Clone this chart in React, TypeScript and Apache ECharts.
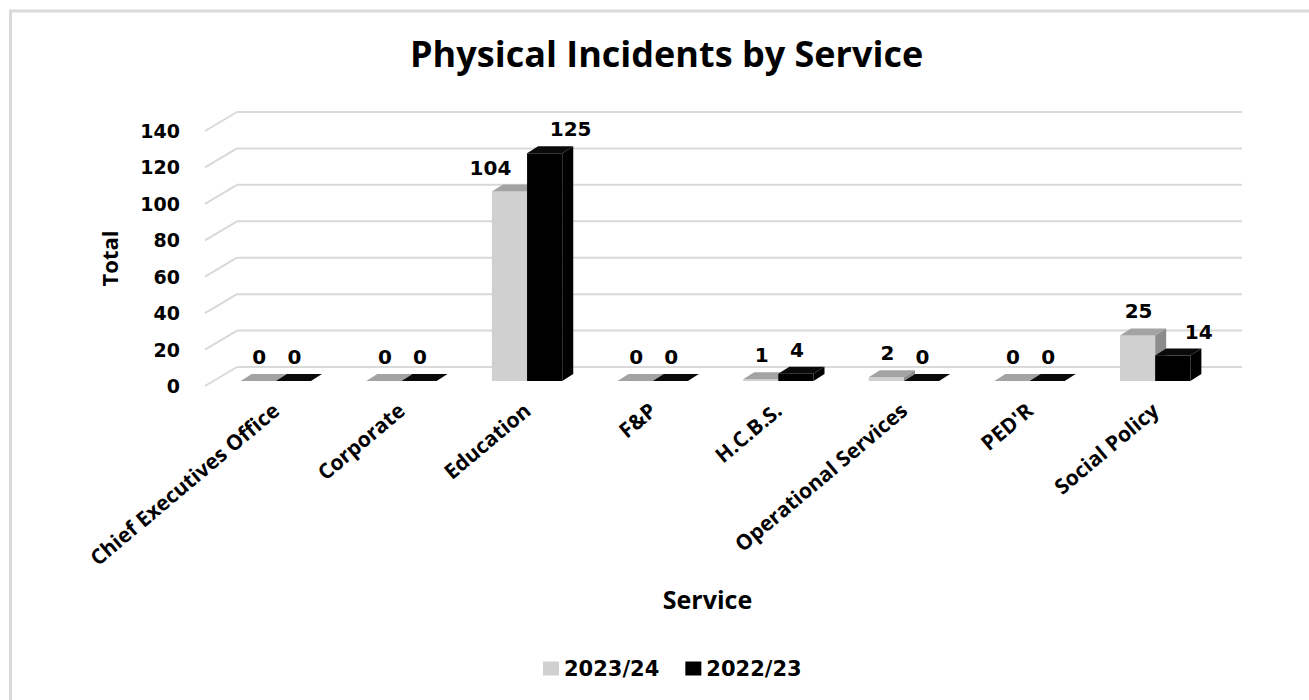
import React, { useEffect, useRef } from "react";
import * as echarts from "echarts";

const categories = [
  "Chief Executives Office",
  "Corporate",
  "Education",
  "F&P",
  "H.C.B.S.",
  "Operational Services",
  "PED'R",
  "Social Policy",
];
const values2324 = [0, 0, 104, 0, 1, 2, 0, 25];
const values2223 = [0, 0, 125, 0, 4, 0, 0, 14];
const yTicks = [0, 20, 40, 60, 80, 100, 120, 140];
const seriesNames = ["2023/24", "2022/23"];

const NUM_FONT = "DejaVu Sans";
const TXT_FONT = "Open Sans";

// 3D offsets
const BACK_DX = 24, BACK_DY = -14; // bar plane -> back wall
const FRONT_DX = -8, FRONT_DY = 5; // bar plane -> front edge
const BAR_DX = 11, BAR_DY = -7; // bar depth

const palette = [
  { front: "#d0d0d0", top: "#a3a3a3", side: "#8c8c8c" },
  { front: "#000000", top: "#0a0a0a", side: "#000000" },
];

function makeBarRender(side: number, own: number[], other: number[]) {
  const c = palette[side];
  return (params: any, api: any) => {
    const i = api.value(0);
    const v = api.value(1);
    const base = api.coord([i, 0]);
    const top = api.coord([i, v]);
    const band = api.size([1, 0])[0];
    const w = band * 0.28;
    const x0 = side === 0 ? base[0] - w : base[0];
    const x1 = side === 0 ? base[0] : base[0] + w;
    const yb = base[1];
    const yt = top[1];
    const children: any[] = [];
    if (yb - yt > 0.5) {
      children.push({
        type: "rect",
        shape: { x: x0, y: yt, width: x1 - x0, height: yb - yt },
        style: { fill: c.front },
      });
    }
    children.push({
      type: "polygon",
      shape: {
        points: [
          [x0, yt],
          [x1, yt],
          [x1 + BAR_DX, yt + BAR_DY],
          [x0 + BAR_DX, yt + BAR_DY],
        ],
      },
      style: { fill: c.top },
    });
    if (yb - yt > 0.5) {
      children.push({
        type: "polygon",
        shape: {
          points: [
            [x1, yt],
            [x1 + BAR_DX, yt + BAR_DY],
            [x1 + BAR_DX, yb + BAR_DY],
            [x1, yb],
          ],
        },
        style: { fill: c.side },
      });
    }
    const o = other[i];
    let shift = 0;
    if (side === 0 && o - v > 10) shift = -20;
    if (side === 1 && Math.abs(o - v) > 10) shift = 25;
    children.push({
      type: "text",
      style: {
        text: String(v),
        x: (x0 + x1) / 2 + shift + 1,
        y: yt - 24,
        align: "center",
        verticalAlign: "middle",
        fontFamily: NUM_FONT,
        fontWeight: "bold",
        fontSize: 20,
        fill: "#000",
      },
      z2: 10,
    });
    return { type: "group", children };
  };
}

function gridRender(params: any, api: any) {
  const v = api.value(1);
  const p = api.coord([0, v]);
  const left = params.coordSys.x;
  const right = params.coordSys.x + params.coordSys.width;
  const y = p[1];
  const style = { stroke: "#d9d9d9", lineWidth: 2 };
  return {
    type: "group",
    children: [
      {
        type: "line",
        shape: { x1: left + FRONT_DX, y1: y + FRONT_DY, x2: left + BACK_DX, y2: y + BACK_DY },
        style,
      },
      {
        type: "line",
        shape: { x1: left + BACK_DX, y1: y + BACK_DY, x2: right + BACK_DX, y2: y + BACK_DY },
        style,
      },
    ],
  };
}

export default function App() {
  const ref = useRef<HTMLDivElement>(null);
  useEffect(() => {
    if (!ref.current) return;
    const chart = echarts.init(ref.current, null, { renderer: "svg" });
    const option: any = {
      animation: false,
      backgroundColor: "#ffffff",
      title: {
        text: "Physical Incidents by Service",
        left: 410,
        top: 35,
        padding: 0,
        textStyle: { fontFamily: TXT_FONT, fontWeight: "bold", fontSize: 36, color: "#000" },
      },
      legend: {
        data: seriesNames,
        left: 538,
        top: 653,
        icon: "rect",
        itemWidth: 16,
        itemHeight: 14,
        itemGap: 26,
        textStyle: { fontFamily: NUM_FONT, fontWeight: "bold", fontSize: 21, color: "#000" },
      },
      graphic: [
        {
          type: "rect",
          shape: { x: 10.5, y: 11, width: 1400, height: 800 },
          style: { fill: "none", stroke: "#dadada", lineWidth: 3 },
          silent: true,
        },
      ],
      grid: [
        { left: 213, right: 91, top: 126, bottom: 319 },
        { left: 205, right: 99, top: 131, bottom: 314 },
      ],
      xAxis: [
        {
          type: "category",
          gridIndex: 0,
          data: categories,
          axisLine: { show: false },
          axisTick: { show: false },
          axisLabel: {
            rotate: 40,
            margin: 26,
            interval: 0,
            fontFamily: TXT_FONT,
            fontWeight: 700,
            fontSize: 21,
            color: "#000",
          },
        },
        {
          type: "category",
          gridIndex: 1,
          data: categories,
          axisLine: { show: false },
          axisTick: { show: false },
          axisLabel: { show: false },
          name: "Service",
          nameLocation: "middle",
          nameGap: 200,
          nameTextStyle: { fontFamily: TXT_FONT, fontWeight: "bold", fontSize: 25, color: "#000" },
        },
      ],
      yAxis: [
        {
          type: "value",
          gridIndex: 0,
          min: 0,
          max: 140,
          interval: 20,
          axisLabel: { show: false },
          axisLine: { show: false },
          axisTick: { show: false },
          splitLine: { show: false },
        },
        {
          type: "value",
          gridIndex: 1,
          min: 0,
          max: 140,
          interval: 20,
          axisLabel: {
            margin: 25,
            fontFamily: NUM_FONT,
            fontWeight: "bold",
            fontSize: 19,
            color: "#000",
          },
          axisLine: { show: false },
          axisTick: { show: false },
          splitLine: { show: false },
          name: "Total",
          nameLocation: "middle",
          nameGap: 85,
          nameRotate: 90,
          nameTextStyle: { fontFamily: TXT_FONT, fontWeight: "bold", fontSize: 22, color: "#000" },
        },
      ],
      series: [
        {
          type: "custom",
          name: "grid",
          xAxisIndex: 0,
          yAxisIndex: 0,
          silent: true,
          z: 1,
          renderItem: gridRender,
          data: yTicks.map((t) => [0, t]),
        },
        {
          type: "custom",
          name: seriesNames[0],
          xAxisIndex: 0,
          yAxisIndex: 0,
          z: 2,
          itemStyle: { color: palette[0].front },
          renderItem: makeBarRender(0, values2324, values2223),
          data: values2324.map((v, i) => [i, v]),
        },
        {
          type: "custom",
          name: seriesNames[1],
          xAxisIndex: 0,
          yAxisIndex: 0,
          z: 3,
          itemStyle: { color: palette[1].front },
          renderItem: makeBarRender(1, values2223, values2324),
          data: values2223.map((v, i) => [i, v]),
        },
      ],
    };
    chart.setOption(option);
    return () => chart.dispose();
  }, []);
  return (
    <div
      ref={ref}
      style={{ position: "absolute", left: 0, top: 0, width: 1309, height: 700, background: "#fff" }}
    />
  );
}
